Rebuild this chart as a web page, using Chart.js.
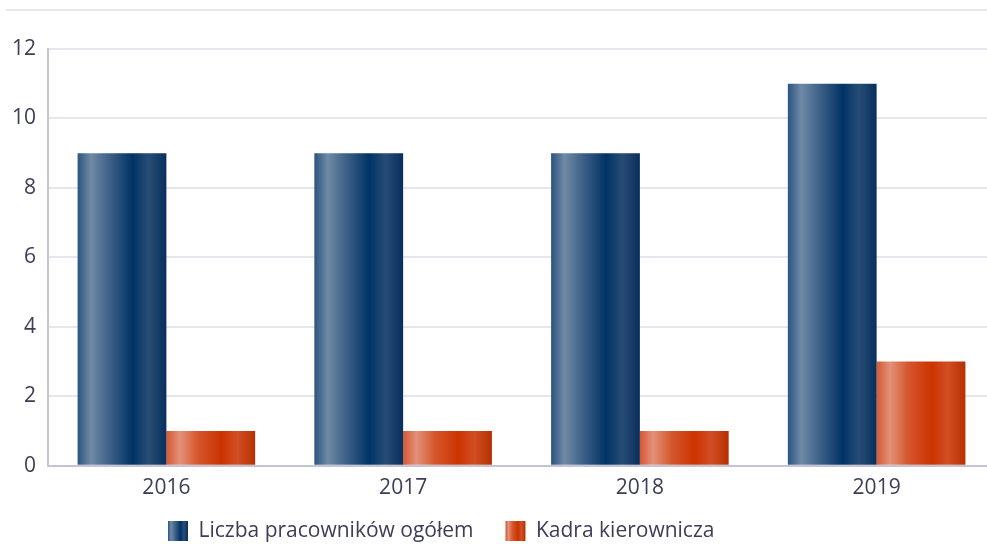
<!DOCTYPE html>
<html><head><meta charset="utf-8">
<script src="https://cdn.jsdelivr.net/npm/chart.js@4/dist/chart.umd.min.js"></script>
<style>
html,body{margin:0;padding:0;background:#fff;}
#wrap{position:relative;width:987px;height:544px;overflow:hidden;}
#topline{position:absolute;left:6px;right:0;top:9px;height:0;border-top:2px solid #e6e6ee;}
</style></head>
<body><div id="wrap"><div id="topline"></div><canvas id="c" width="987" height="544"></canvas></div>
<script>
const categories = ['2016', '2017', '2018', '2019'];
const seriesNames = ['Liczba pracowników ogółem', 'Kadra kierownicza'];
const totalEmployees = [9, 9, 9, 11];
const management = [1, 1, 1, 3];
const yTicks = [0, 2, 4, 6, 8, 10, 12];

const blueStops = [[0,'#2b5480'],[0.15,'#6f8aa6'],[0.35,'#3f6288'],[0.62,'#003366'],[0.8,'#274d76'],[1,'#082f5d']];
const orangeStops = [[0,'#d65730'],[0.15,'#e3917a'],[0.35,'#d5582e'],[0.62,'#cc3300'],[0.8,'#d24e24'],[1,'#b53000']];

const CAT_PCT = 0.75, BAR_PCT = 1.0;
const LEG_PAD = 32, LEG_BOX = 20, LEG_FONT = 21;
const LEG_LEFT = 168, LEG_CENTER_Y = 533;
const PLOT_OVERHANG = 8;

function makeGrad(c, x0, x1, stops, fallback){
  if (!isFinite(x0) || !isFinite(x1) || x1 === x0) return fallback;
  const g = c.createLinearGradient(x0, 0, x1, 0);
  stops.forEach(s => g.addColorStop(s[0], s[1]));
  return g;
}
function barFill(stops, dsIndex){
  return function(ctx){
    const chart = ctx.chart;
    const xs = chart.scales && chart.scales.x;
    const fb = stops[3][1];
    if (!xs || ctx.dataIndex === undefined) return fb;
    const n = categories.length;
    const catW = (xs.right - xs.left) / n;
    const bw = catW * CAT_PCT * BAR_PCT / 2;
    const center = xs.getPixelForValue(ctx.dataIndex);
    const left = center - bw + dsIndex * bw;
    return makeGrad(chart.ctx, left, left + bw, stops, fb);
  };
}

const legendPlugin = {
  id: 'gradLegend',
  afterLayout(chart){
    const xs = chart.scales.x;
    if (xs) {
      xs.right = xs.right + PLOT_OVERHANG;
      xs.width = xs.right - xs.left;
      xs.configure();
      chart.chartArea.right = xs.right;
      chart.chartArea.width = chart.chartArea.right - chart.chartArea.left;
    }
    const lg = chart.legend;
    if (!lg) return;
    lg.left = LEG_LEFT - LEG_PAD;
    const itemH = LEG_FONT * 1.2;
    lg.top = LEG_CENTER_Y - itemH / 2 - LEG_PAD;
  },
  beforeDraw(chart){
    const lg = chart.legend;
    if (!lg || !lg.legendItems || !lg.legendHitBoxes) return;
    let x = lg.left + LEG_PAD;
    lg.legendItems.forEach((it, i) => {
      const st = i === 0 ? blueStops : orangeStops;
      const h = lg.legendHitBoxes[i];
      it.fillStyle = makeGrad(chart.ctx, x, x + LEG_BOX, st, st[3][1]);
      if (h) x += h.width + LEG_PAD;
    });
  }
};

const FONT = 'Open Sans';
new Chart(document.getElementById('c'), {
  type: 'bar',
  data: {
    labels: categories,
    datasets: [
      {label: seriesNames[0], data: totalEmployees, backgroundColor: barFill(blueStops, 0), borderWidth: 0},
      {label: seriesNames[1], data: management, backgroundColor: barFill(orangeStops, 1), borderWidth: 0}
    ]
  },
  options: {
    responsive: false,
    animation: false,
    layout: {padding: {top: 49, right: 0, left: 0, bottom: -30}},
    datasets: {bar: {categoryPercentage: CAT_PCT, barPercentage: BAR_PCT}},
    plugins: {
      legend: {
        position: 'bottom',
        align: 'start',
        labels: {
          boxWidth: LEG_BOX, boxHeight: LEG_BOX, padding: LEG_PAD,
          color: '#3d3d58',
          font: {family: FONT, size: LEG_FONT}
        }
      },
      tooltip: {enabled: false}
    },
    scales: {
      x: {
        grid: {display: false, drawTicks: false},
        border: {color: '#c4c4d4', width: 2},
        ticks: {color: '#3d3d58', font: {family: FONT, size: 21}, padding: 10}
      },
      y: {
        min: 0, max: 12,
        afterBuildTicks(axis){ axis.ticks = yTicks.map(v => ({value: v})); },
        grid: {color: '#e6e6ee', lineWidth: 2, drawTicks: false},
        border: {color: '#c4c4d4', width: 2},
        ticks: {color: '#3d3d58', font: {family: FONT, size: 21}, padding: 12}
      }
    }
  },
  plugins: [legendPlugin]
});
</script></body></html>
